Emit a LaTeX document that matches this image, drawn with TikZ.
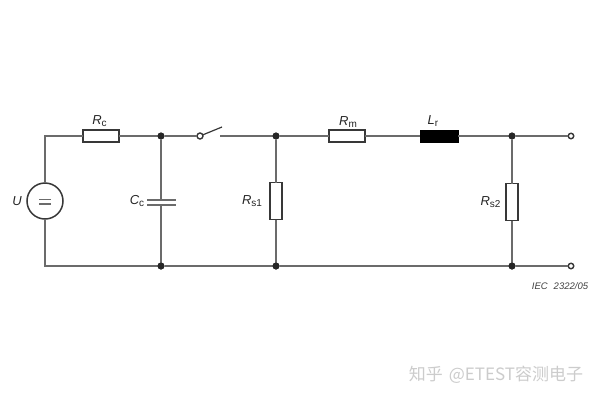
\documentclass[tikz,border=0pt]{standalone}
\usepackage{fontspec}
\setmainfont{Liberation Sans}
\newfontfamily\cjk{Noto Sans CJK SC}
\definecolor{wire}{gray}{0.42}
\definecolor{boxline}{gray}{0.22}
\tikzset{
  wireline/.style={draw=wire,line width=1.9pt},
  res/.style={draw=boxline,fill=white,line width=1.5pt,minimum width=36pt,minimum height=12pt,inner sep=0pt,outer sep=0pt},
  vres/.style={draw=boxline,fill=white,line width=1.5pt,minimum width=12pt,minimum height=37pt,inner sep=0pt,outer sep=0pt},
  ind/.style={draw=black,fill=black,minimum width=38pt,minimum height=12pt,inner sep=0pt,outer sep=0pt},
  dot/.style={circle,fill=black!85,minimum size=7pt,inner sep=0pt,outer sep=0pt},
  term/.style={circle,draw=boxline,fill=white,line width=1.4pt,minimum size=5.5pt,inner sep=0pt,outer sep=0pt},
  lab/.style={inner sep=0pt,font=\fontsize{13}{13}\selectfont\itshape,text=black!85},
}
\newcommand{\subs}[1]{\raisebox{-2pt}{\fontsize{10}{10}\selectfont\upshape #1}}
\begin{document}
\begin{tikzpicture}[x=1pt,y=-1pt]
\useasboundingbox[fill=white] (0,0) rectangle (600,400);
% named points
\coordinate (tl) at (45,136);
\coordinate (bl) at (45,266);
\node[dot] (n1) at (161,136) {};
\node[dot] (n2) at (276,136) {};
\node[dot] (n3) at (512,136) {};
\node[dot] (b1) at (161,266) {};
\node[dot] (b2) at (276,266) {};
\node[dot] (b3) at (512,266) {};
\node[term] (t1) at (571,136) {};
\node[term] (t2) at (571,266) {};
\node[term,minimum size=6pt] (sw) at (200,136) {};
\coordinate (swa) at (222,127);
\coordinate (swb) at (220,136);
\node[circle,draw=boxline,fill=white,line width=1.5pt,minimum size=36pt,inner sep=0pt,outer sep=0pt] (U) at (45,201) {};
\node[res] (Rc) at (101,136) {};
\node[res] (Rm) at (347,136) {};
\node[ind] (Lr) at (439,136) {};
\node[vres] (Rs1) at (276,201) {};
\node[vres] (Rs2) at (512,202) {};
\coordinate (c1) at (161,199.5);
\coordinate (c2) at (161,204.5);
% wires
\draw[wireline] (U.north) -- (tl) -- (Rc.west);
\draw[wireline] (Rc.east) -- (n1) -- (sw);
\draw[wireline] (swb) -- (n2) -- (Rm.west);
\draw[wireline] (Rm.east) -- (Lr.west);
\draw[wireline] (Lr.east) -- (n3) -- (t1);
\draw[wireline] (U.south) -- (bl) -- (b1) -- (b2) -- (b3) -- (t2);
\draw[wireline] (n1) -- (c1);
\draw[wireline] (c2) -- (b1);
\draw[wireline] (n2) -- (Rs1.north);
\draw[wireline] (Rs1.south) -- (b2);
\draw[wireline] (n3) -- (Rs2.north);
\draw[wireline] (Rs2.south) -- (b3);
\draw[draw=boxline,line width=1.2pt] (sw) -- (swa);
% redraw the nodes over the wire ends
\node[dot] at (n1) {};
\node[dot] at (n2) {};
\node[dot] at (n3) {};
\node[dot] at (b1) {};
\node[dot] at (b2) {};
\node[dot] at (b3) {};
% capacitor plates
\draw[wireline,line width=2pt] (147,199.5) -- (176,199.5);
\draw[wireline,line width=2pt] (147,204.5) -- (176,204.5);
% source symbol
\draw[wireline,line width=1.8pt] (39,199.5) -- (51,199.5);
\draw[wireline,line width=1.8pt] (39,204) -- (51,204);
% labels
\node[lab] (lU) at (17,201) {U};
\node[lab] (lRc) at (99.5,121) {R\subs{c}};
\node[lab] (lCc) at (137,201.5) {C\subs{c}};
\node[lab] (lRs1) at (252,201) {R\subs{s1}};
\node[lab] (lRm) at (348,122) {R\subs{m}};
\node[lab] (lLr) at (433,121) {L\subs{r}};
\node[lab] (lRs2) at (490.5,202) {R\subs{s2}};
\node[inner sep=0pt,font=\fontsize{9.5}{9.5}\selectfont\itshape,text=black!75] (iec) at (560,286) {IEC\hspace{6pt}2322/05};
\node[inner sep=0pt,font=\fontsize{17}{17}\selectfont,text=black!20] (wm) at (496,375) {\cjk 知乎\hspace{6pt}@ETEST容测电子};
\end{tikzpicture}
\end{document}
